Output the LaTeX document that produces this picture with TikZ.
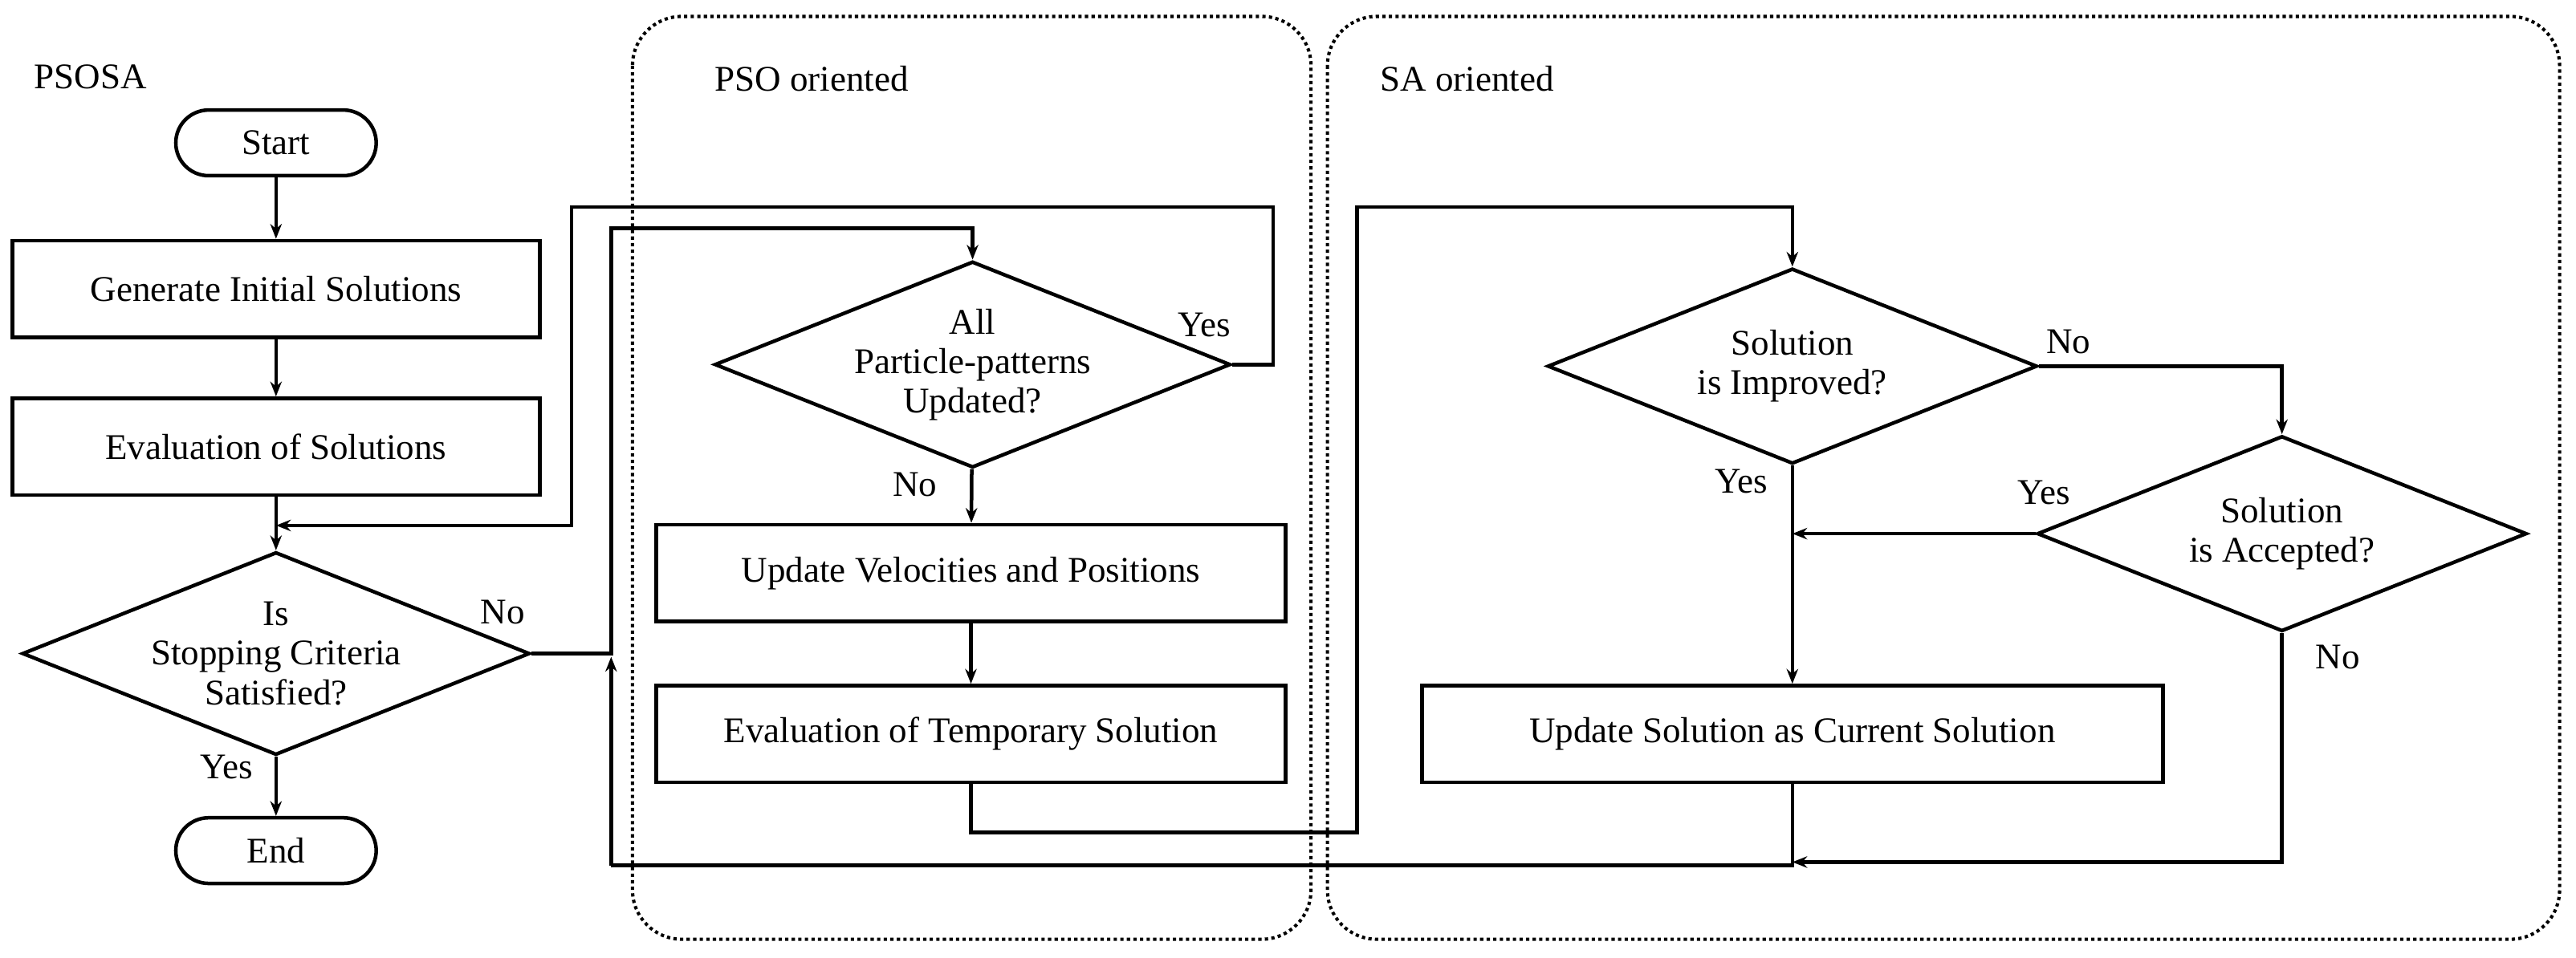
\documentclass[tikz,border=0pt]{standalone}
\usepackage{fontspec}
\setmainfont{Liberation Serif}
\usetikzlibrary{shapes.geometric,arrows.meta}
\begin{document}
\begin{tikzpicture}[x=1pt,y=-1pt,
  every node/.style={font=\fontsize{22}{24}\selectfont},
  box/.style={draw,line width=2.2pt,minimum height=59pt,inner sep=0pt},
  term/.style={draw,line width=2.2pt,rounded corners=20pt,minimum width=122pt,minimum height=40pt,inner sep=0pt},
  dia/.style={draw,line width=2.2pt,diamond,aspect=2.5,inner sep=0pt,align=center,minimum width=298pt,minimum height=119pt},
  ln/.style={line width=2.2pt},
  ar/.style={line width=2.2pt,-{Stealth[length=9pt,width=7pt]}},
  grp/.style={draw,line width=2pt,dotted,rounded corners=30pt},
  lbl/.style={inner sep=0pt}]
\useasboundingbox (0,0) rectangle (1568,583);
\draw[grp] (385,10) rectangle (798,572);
\draw[grp] (808,10) rectangle (1558,572);
\node[lbl] at (55,47) {PSOSA};
\node[lbl] at (494,48) {PSO oriented};
\node[lbl] at (893,48) {SA oriented};
\node[term] (start) at (168,87) {Start};
\node[box,minimum width=321pt] (gen) at (168,176) {Generate Initial Solutions};
\node[box,minimum width=321pt] (eval) at (168,272) {Evaluation of Solutions};
\node[dia] (stop) at (168,398) {Is\\Stopping Criteria\\Satisfied?};
\node[term] (end) at (168,518) {End};
\node[dia] (all) at (592,222) {All\\Particle-patterns\\Updated?};
\node[box,minimum width=383pt] (vel) at (591,349) {Update Velocities and Positions};
\node[box,minimum width=383pt] (temp) at (591,447) {Evaluation of Temporary Solution};
\node[dia] (imp) at (1091,223) {Solution\\is Improved?};
\node[dia] (acc) at (1389,325) {Solution\\is Accepted?};
\node[box,minimum width=451pt] (upd) at (1091,447) {Update Solution as Current Solution};
\coordinate (j1) at (168,320);
\coordinate (j2) at (1091,325);
\coordinate (j3) at (1091,525);
\draw[ar] (start) -- (gen);
\draw[ar] (gen) -- (eval);
\draw[ar] (eval) -- (stop);
\draw[ar] (stop) -- (end);
\draw[ar] (all.east) -- (775,222) -- (775,126) -- (348,126) -- (348,320) -- (j1);
\draw[ar] (stop.east) -- (372,398) -- (372,139) -- (592,139) -- (all.north);
\draw[ar] (all) -- (vel);
\draw[ar] (vel) -- (temp);
\draw[ar] (temp.south) -- (591,507) -- (826,507) -- (826,126) -- (1091,126) -- (imp.north);
\draw[ar] (imp.east) -- (1389,223) -- (acc.north);
\draw[ar] (imp) -- (upd);
\draw[ar] (acc.west) -- (j2);
\draw[ar] (acc.south) -- (1389,525) -- (j3);
\draw[ln] (upd.south) -- (1091,527) -- (372,527);
\draw[ar] (372,527) -- (372,400);
\node[lbl] at (306,373) {No};
\node[lbl] at (138,467) {Yes};
\node[lbl] at (733,198) {Yes};
\node[lbl] at (557,295) {No};
\node[lbl] at (1259,208) {No};
\node[lbl] at (1060,293) {Yes};
\node[lbl] at (1244,300) {Yes};
\node[lbl] at (1423,400) {No};
\end{tikzpicture}
\end{document}
